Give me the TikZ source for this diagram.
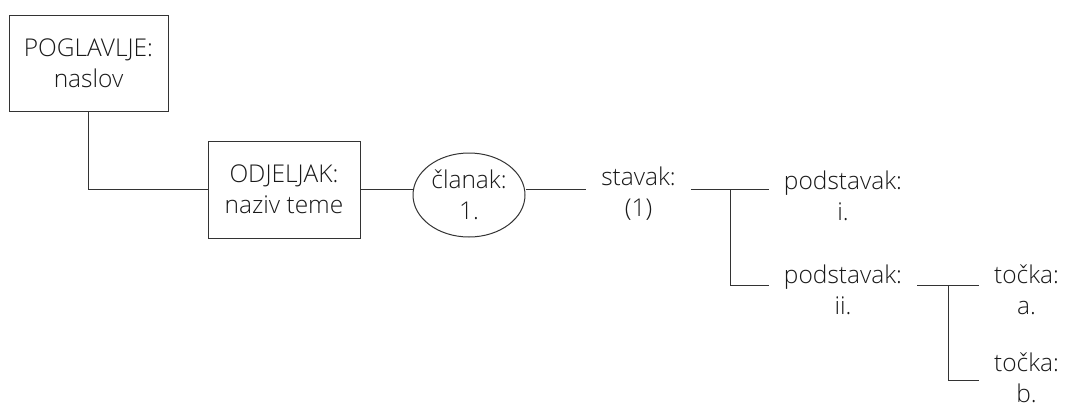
\documentclass[tikz,border=0pt]{standalone}
\usepackage{fontspec}
\setmainfont{Open Sans Light}
\usetikzlibrary{shapes.geometric}
\begin{document}
\begin{tikzpicture}[x=1pt,y=-1pt,
  every node/.style={font=\fontsize{24.5}{31}\selectfont, text=black!90, align=center},
  box/.style={draw=black!80, line width=1pt, minimum width=159pt, minimum height=96pt, inner sep=0pt},
  oval/.style={draw=black!80, line width=1pt, ellipse, minimum width=112pt, minimum height=84pt, inner sep=0pt},
  label/.style={inner xsep=15pt, inner ysep=0pt},
  link/.style={draw=black!80, line width=1pt}]
  \useasboundingbox (0,0) rectangle (1065,408);

  % boxed headings
  \node[box] (pog) at (88.5,63) {POGLAVLJE:\\naslov};
  \node[box, minimum width=152pt, minimum height=97pt] (odj) at (284,189.5) {ODJELJAK:\\naziv teme};
  \node[oval] (cl) at (469,195) {članak:\\1.};

  % free text labels
  \node[label] (stav) at (638.5,194) {stavak:\\(1)};
  \node[label] (p1) at (843,196) {podstavak:\\i.};
  \node[label] (p2) at (843,290) {podstavak:\\ii.};
  \node[label] (t1) at (1026.5,290) {točka:\\a.};
  \node[label] (t2) at (1026.5,378) {točka:\\b.};

  % connector rows and branch points
  \coordinate (r1) at (0,189.5);
  \coordinate (r2) at (0,285);
  \coordinate (r3) at (0,380);
  \coordinate (b1) at (730.5,189.5);
  \coordinate (b2) at (948,285);

  \draw[link] (pog.south) |- (odj.west);
  \draw[link] (odj.east) -- (cl.west |- r1);
  \draw[link] (cl.east |- r1) -- (stav.west |- r1);
  \draw[link] (stav.east |- r1) -- (p1.west |- r1);
  \draw[link] (b1) |- (p2.west |- r2);
  \draw[link] (p2.east |- r2) -- (t1.west |- r2);
  \draw[link] (b2) |- (t2.west |- r3);
\end{tikzpicture}
\end{document}
